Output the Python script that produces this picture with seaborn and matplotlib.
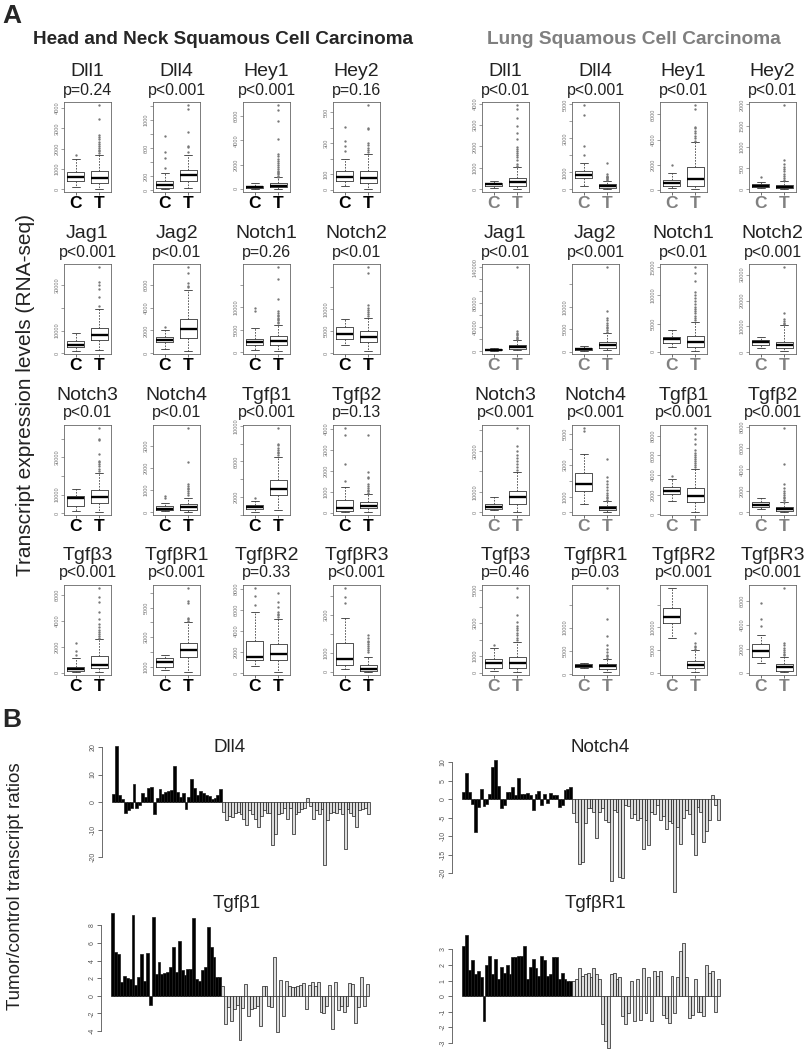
import numpy as np
import pandas as pd
import matplotlib
matplotlib.use("Agg")
import matplotlib.pyplot as plt
import seaborn as sns

sns.set_style("white")
plt.rcParams['font.family'] = ['Liberation Sans', 'DejaVu Sans']

# ---------------- data: panel A (box plots) ----------------
genes = ["Dll1", "Dll4", "Hey1", "Hey2", "Jag1", "Jag2", "Notch1", "Notch2",
         "Notch3", "Notch4", "Tgfβ1", "Tgfβ2", "Tgfβ3", "TgfβR1", "TgfβR2", "TgfβR3"]

hn_pvals = ["p=0.24", "p<0.001", "p<0.001", "p=0.16", "p<0.001", "p<0.01", "p=0.26", "p<0.01",
            "p<0.01", "p<0.01", "p<0.001", "p=0.13", "p<0.001", "p<0.001", "p=0.33", "p<0.001"]
lu_pvals = ["p<0.01", "p<0.001", "p<0.01", "p<0.01", "p<0.01", "p<0.001", "p<0.01", "p<0.001",
            "p<0.001", "p<0.001", "p<0.001", "p<0.001", "p=0.46", "p=0.03", "p<0.001", "p<0.001"]

# box stats: [whisker low, q1, median, q3, whisker high]
hn_ctrl = [[100, 400, 620, 870, 1480], [24, 34, 83, 137, 244], [20, 80, 160, 270, 490],
           [22, 54, 83, 120, 200], [1200, 2600, 3900, 5300, 8800], [360, 950, 1160, 1400, 2000],
           [530, 1670, 2270, 3030, 5450], [1900, 3300, 4460, 5900, 7700], [1270, 4000, 8200, 9100, 13100],
           [46, 92, 170, 277, 430], [330, 588, 900, 1137, 1568], [50, 100, 245, 620, 1230],
           [80, 130, 290, 470, 1130], [770, 1000, 1300, 1580, 1810], [650, 1230, 1550, 3060, 5800],
           [145, 380, 650, 1545, 2840]]
hn_tum = [[30, 330, 540, 880, 1680], [34, 137, 215, 283, 502], [20, 135, 270, 460, 950],
          [7, 43, 76, 120, 232], [1500, 5800, 8000, 11400, 19700], [210, 1310, 2150, 3050, 5580],
          [400, 1670, 2580, 3560, 6200], [600, 2540, 3600, 5000, 8080], [900, 5450, 8700, 12500, 21800],
          [30, 123, 246, 385, 660], [500, 2156, 2940, 3920, 6468], [50, 210, 330, 490, 900],
          [80, 395, 605, 1320, 2630], [650, 1620, 2100, 2570, 3990], [160, 1290, 1870, 2800, 5160],
          [0, 55, 145, 365, 780]]
hn_ctrl_out = [[1700], [317, 463, 537, 766], [], [250, 283, 315, 406], [], [2300], [9240, 9770], [],
               [], [660, 740], [1842], [1520, 2340, 3690, 4030], [1340, 1660, 2320], [],
               [6450, 7320, 8060], [3640, 3960, 4420]]
hn_tum_out = [[1800, 1880, 1950, 2050, 2150, 2250, 2350, 2450, 2550, 2650, 3450, 4130],
              [537, 610, 634, 830, 1146, 1205],
              [1000, 1100, 1200, 1300, 1400, 1500, 1650, 1800, 1950, 2100, 2300, 2500, 2700, 2900,
               4100, 5600, 6500, 6900],
              [240, 255, 270, 285, 300, 390, 396, 543],
              [21000, 24700, 28500, 30000, 31500, 37900],
              [5800, 5970, 6180, 7070, 7580],
              [6500, 6800, 7100, 7400, 7700, 8000, 8400, 8800, 9200, 11900, 16300, 18900],
              [8500, 8900, 9300, 9700, 10200, 10800, 18100, 19400],
              [22700, 24000, 25500, 26500, 27500, 28200, 31800, 39000, 40000, 45500],
              [800, 880, 960, 1040, 1120, 1200, 1280, 2280, 3800],
              [6700, 6900, 7050, 7250, 7500, 7800, 8000, 9720],
              [950, 1020, 1100, 1180, 1260, 1360, 1640, 1720, 1930, 3690],
              [2700, 2850, 3000, 3150, 3300, 3500, 3800, 4160, 4680, 5470, 5870, 6530],
              [4100, 4200, 4300, 5310, 5450, 6300],
              [5320, 5500, 5650, 5800, 6300, 6770, 7580],
              [1050, 1150, 1250, 1350, 1450, 1550, 1650, 1800, 1960]]

lu_ctrl = [[80, 160, 240, 317, 400], [200, 640, 860, 1100, 1560], [140, 330, 545, 760, 1360],
           [24, 56, 80, 120, 176], [560, 1100, 2260, 3400, 5100], [225, 375, 600, 750, 1280],
           [780, 1560, 2280, 2580, 3780], [1560, 2870, 3900, 4800, 5870], [990, 1480, 2800, 4100, 7250],
           [500, 1340, 1770, 2480, 3730], [1360, 2030, 2400, 2810, 3560], [310, 470, 720, 940, 1380],
           [100, 310, 580, 840, 1500], [1230, 1450, 1810, 2170, 2300], [7740, 10900, 12400, 14360, 18650],
           [790, 1350, 1770, 2420, 3180]]
lu_tum = [[30, 160, 320, 510, 1030], [40, 100, 200, 300, 500], [80, 270, 820, 1770, 3810],
          [16, 24, 56, 96, 200], [1700, 3400, 7300, 10200, 18600], [375, 750, 1500, 2250, 4130],
          [180, 780, 1680, 2760, 5280], [650, 1700, 2870, 3900, 10400], [330, 4100, 7250, 10200, 19600],
          [40, 150, 280, 410, 750], [270, 1290, 1900, 2640, 4610], [60, 160, 280, 470, 940],
          [60, 310, 580, 950, 1850], [500, 1090, 1670, 2170, 3260], [225, 1130, 1730, 2630, 5110],
          [85, 170, 450, 700, 1350]]
lu_ctrl_out = [[], [2000, 2560, 4360, 4940], [2000], [280], [], [], [], [], [], [5170, 5340], [3900],
               [], [1650], [], [], [3890, 4510, 5800]]
lu_tum_out = [[1100, 1200, 1350, 1500, 1600, 1700, 1800, 1900, 1980, 2330, 2620, 2940, 3330, 3730, 3920],
              [550, 600, 650, 700, 750, 800, 900, 1540],
              [3900, 4100, 4300, 4500, 4700, 4900, 5040, 6460, 6730],
              [230, 270, 310, 360, 420, 480, 520, 600, 680, 1976],
              [20000, 22000, 24000, 26000, 28500, 30500, 32800, 140000],
              [4400, 4800, 5200, 5600, 6000, 6500, 7000, 7500, 9170, 18800],
              [5600, 6000, 6400, 6800, 7200, 7600, 8000, 8500, 9000, 9500, 10000, 10700, 12500, 14000, 15000],
              [10900, 11500, 12200, 13000, 15000, 32800],
              [20500, 22000, 23500, 25000, 26500, 28000, 30000, 32500, 41000],
              [800, 900, 1000, 1100, 1250, 1400, 1600, 1800, 2000, 2260, 3380],
              [4800, 5000, 5200, 5400, 5600, 5800, 6000, 6200, 6540, 7200, 7700, 8200, 8750],
              [1000, 1150, 1300, 1450, 1600, 1800, 2000, 2300, 2660, 4480, 7840],
              [1950, 2100, 2250, 2400, 2550, 2700, 2850, 3050, 3500, 4590, 5100],
              [3500, 3800, 4200, 4700, 5300, 6160, 8190, 11800, 18500],
              [5300, 5600, 6000, 6600, 8870],
              [1450, 1600, 1750, 1900, 2100, 2300, 2480, 7040]]

# y ticks (start, stop, step) and which tick labels R kept
hn_ticks = [(0, 4000, 1000), (0, 1200, 200), (0, 6000, 2000), (0, 500, 100),
            (0, 30000, 10000), (0, 6000, 2000), (0, 15000, 5000), (0, 15000, 5000),
            (0, 40000, 10000), (0, 3000, 1000), (0, 10000, 2000), (0, 4000, 1000),
            (0, 6000, 2000), (1000, 6000, 1000), (0, 8000, 2000), (0, 4000, 1000)]
hn_shown = [[0, 1000, 2000, 3000, 4000], [0, 200, 600, 1000], [0, 2000, 4000, 6000], [0, 100, 300, 500],
            [0, 10000, 30000], [0, 2000, 4000, 6000], [0, 5000, 10000], [0, 5000, 10000],
            [0, 10000, 30000], [0, 1000, 2000, 3000], [2000, 6000, 10000], [0, 1000, 2000, 3000, 4000],
            [0, 2000, 4000, 6000], [1000, 3000, 5000], [0, 2000, 4000, 6000, 8000], [0, 1000, 3000]]
lu_ticks = [(0, 4000, 1000), (0, 5000, 1000), (0, 6000, 2000), (0, 2000, 500),
            (0, 140000, 20000), (0, 15000, 5000), (0, 15000, 5000), (0, 30000, 10000),
            (0, 40000, 10000), (0, 5000, 1000), (0, 8000, 2000), (0, 8000, 2000),
            (0, 5000, 1000), (0, 15000, 5000), (0, 15000, 5000), (0, 6000, 2000)]
lu_shown = [[0, 1000, 2000, 3000, 4000], [0, 1000, 3000, 5000], [0, 2000, 4000, 6000],
            [0, 500, 1000, 1500, 2000], [0, 40000, 80000, 140000], [0, 5000, 10000],
            [0, 5000, 10000, 15000], [0, 10000, 20000, 30000], [0, 10000, 30000], [0, 1000, 3000, 5000],
            [0, 2000, 4000, 6000, 8000], [0, 2000, 4000, 6000, 8000], [0, 1000, 3000, 5000],
            [0, 5000, 10000], [0, 5000, 10000], [0, 2000, 4000, 6000]]

# ---------------- data: panel B (tumor/control ratios) ----------------
dll4_hn = [3, 20.5, 2.5, 1, -4, -3, -2, 6.5, -2, -1, 3.2, 2, 5.2, 5.5, -4.5, 1.5, 4.8, 3, 3.8,
           4.2, 4.5, 13, 3.5, 2, 3.3, -2.5, 2, 8.5, 5, 2.5, 4, 3.2, 2.5, 2.2, 1, 1.5, 2.5, 4.7]
dll4_lu = [-3.5, -6.5, -5, -5.5, -4, -3.5, -4.5, -6, -8.5, -3, -4.5, -6, -9, -5, -3, -4, -4,
           -15.5, -11.5, -4.5, -4, -2, -6, -2, -11.5, -4.5, -3.5, -2.5, -2, 1.5, -1.5, -6, -3,
           -4.5, -2.5, -23, -6.5, -4, -3.5, -4, -2.5, -4.5, -17, -2.5, -4, -5, -9, -3, -2.5, -2, -4.5]
notch4_hn = [1.8, 7, 1.8, -1.3, -9, -2, 2.8, -1.8, -1.3, 1.3, 8.7, 10.5, 3.5, -2.3, -1.5, 1.8,
             1.8, 3.2, 1, 5.8, 1.5, 1.5, 1.7, 1.2, -2.8, 1.5, 2.2, -1.7, 1.5, -1, 1.6, 1.2, 1,
             -2.2, -1.5, 2.5, 2.8, 3.2]
notch4_lu = [-3.8, -6.2, -17.5, -17, -6.5, -2.5, -2.5, -3.5, -10.5, -3.5, -2.5, -5.5, -6.2, -22,
             -3, -3.5, -21, -21.3, -1.5, -1.8, -5, -4, -5.5, -5, -13.5, -5.5, -12.5, -3.5, -4, -1.5,
             -5.5, -4.5, -8, -6, -6.5, -25, -7.5, -12, -5, -3, -4, -9.5, -15.2, -2, -3.5, -11.5,
             -8.5, -5.5, 1, -1.5, -5.5]
tgfb1_hn = [9.4, 5.0, 4.7, 1.6, 2.3, 2.0, 1.9, 9.2, 1.2, 2.1, 4.8, 1.7, 4.9, -1.0, 9.0, 2.5, 3.8,
            2.5, 2.6, 2.7, 3.3, 5.5, 2.7, 6.2, 2.9, 2.4, 3.0, 3.0, 8.8, 1.9, 1.7, 2.9, 3.3, 7.8,
            5.6, 4.4, 2.1, 2.1]
tgfb1_lu = [1.1, -3.2, -1.3, -2.8, -1.5, -1.0, -5.0, -1.4, 1.3, -2.3, -1.5, -1.4, -1.1, -3.4, 1.1,
            1.1, -1.2, -1.3, 4.4, -4.1, 1.8, -2.3, 1.7, 1.1, 1.0, 1.0, 1.1, 1.2, 1.5, -1.5, 1.2,
            1.6, 1.1, 1.6, -1.8, -1.9, -1.2, 1.2, -3.8, 1.6, -1.6, -1.2, -1.8, -1.1, 1.5, 1.3,
            -3.1, -1.3, 2.1, -1.2, 1.4]
tgfbr1_hn = [3.2, 3.9, 1.7, 2.3, 1.4, 1.6, 1.2, -1.6, 2.0, 2.6, 1.4, 2.4, 1.1, 1.9, 1.5, 2.0, 1.4,
             2.5, 2.5, 2.6, 2.6, 3.2, 1.1, 1.9, 2.4, 1.8, 1.3, 2.6, 2.3, 1.3, 1.4, 2.5, 2.5, 1.1,
             1.5, 1.1, 1.0, 1.0]
tgfbr1_lu = [1.0, 1.1, 1.8, 1.3, 1.4, 1.5, 1.2, 1.8, 1.4, 1.1, -1.8, -2.9, -3.3, 1.4, 1.5, 1.1,
             1.2, -1.3, -1.8, -1.1, 1.0, -1.6, 1.1, -1.5, 1.8, -1.1, 1.2, -1.6, 1.6, 1.3, 1.6,
             -1.2, -1.4, -1.7, 1.3, -1.1, 1.2, 2.9, 3.4, 1.2, -1.4, -1.2, 1.1, -1.0, -1.0, -1.3,
             2.0, 1.5, 1.6, -1.0, 1.1]
bar_titles = ["Dll4", "Notch4", "Tgfβ1", "TgfβR1"]
bar_ticks = [[-20, -10, 0, 10, 20], [-20, -15, -10, -5, 0, 5, 10], [-4, -2, 0, 2, 4, 6, 8],
             [-3, -2, -1, 0, 1, 2, 3]]

W, H = 809, 1050
fig = plt.figure(figsize=(W / 100, H / 100), dpi=100)


def px_axes(x0, y0, x1, y1):
    return fig.add_axes([x0 / W, 1 - y1 / H, (x1 - x0) / W, (y1 - y0) / H])


def draw_box(ax, cs, ts, co, to, tk, shown, ct_color):
    stats = [dict(whislo=s[0], q1=s[1], med=s[2], q3=s[3], whishi=s[4], fliers=o)
             for s, o in ((cs, co), (ts, to))]
    ax.bxp(stats, positions=[1, 2], widths=0.72, showfliers=True,
           boxprops=dict(color='#333333', lw=0.6),
           medianprops=dict(color='black', lw=1.7),
           whiskerprops=dict(color='#444444', lw=0.6, ls=(0, (2, 1.5))),
           capprops=dict(color='#333333', lw=0.6),
           flierprops=dict(marker='o', ms=1.7, mfc='#777777', mec='#777777', mew=0))
    vals = [cs[0], ts[0], cs[4], ts[4]] + co + to
    lo, hi = min(vals), max(vals)
    pad = 0.04 * (hi - lo)
    ax.set_ylim(lo - pad, hi + pad)
    ax.set_xlim(0.5, 2.5)
    ticks = np.arange(tk[0], tk[1] + 1, tk[2])
    ax.set_yticks(ticks)
    ax.set_yticklabels([str(t) if t in shown else '' for t in ticks], rotation=90, va='center')
    ax.tick_params(axis='y', length=2, width=0.5, labelsize=4, colors='#777777', pad=1, left=True)
    ax.set_xticks([1, 2])
    ax.set_xticklabels(['C', 'T'], fontsize=12.5, fontweight='bold', color=ct_color)
    ax.tick_params(axis='x', length=2.5, width=0.6, color='#555555', pad=0.5, bottom=True)
    for sp in ax.spines.values():
        sp.set_color('#666666')
        sp.set_linewidth(0.6)


hn_left = [64, 153, 243, 333]
lu_left = [482, 572, 660, 749]
row_top = [102, 264, 425, 585]
bw, bh = 47, 90

for i, g in enumerate(genes):
    r, c = divmod(i, 4)
    for lefts, ctrl, tum, co, to, tks, shw, pv, col in (
            (hn_left, hn_ctrl, hn_tum, hn_ctrl_out, hn_tum_out, hn_ticks, hn_shown, hn_pvals, 'black'),
            (lu_left, lu_ctrl, lu_tum, lu_ctrl_out, lu_tum_out, lu_ticks, lu_shown, lu_pvals, '#808080')):
        x0 = lefts[c]
        y0 = row_top[r]
        ax = px_axes(x0, y0, x0 + bw, y0 + bh)
        draw_box(ax, ctrl[i], tum[i], co[i], to[i], tks[i], shw[i], col)
        xc = (x0 + bw / 2) / W
        fig.text(xc, 1 - (y0 - 30) / H, g, ha='center', va='center', fontsize=14, color='#222222')
        fig.text(xc, 1 - (y0 - 12) / H, pv[i], ha='center', va='center', fontsize=11.5, color='#222222')

fig.text(12 / W, 1 - 16 / H, "A", fontsize=19, fontweight='bold', ha='center', va='center')
fig.text(223 / W, 1 - 40 / H, "Head and Neck Squamous Cell Carcinoma", fontsize=13.6,
         fontweight='bold', ha='center', va='center')
fig.text(634 / W, 1 - 40 / H, "Lung Squamous Cell Carcinoma", fontsize=13.8,
         fontweight='bold', ha='center', va='center', color='#7f7f7f')
fig.text(26 / W, 1 - 395 / H, "Transcript expression levels (RNA-seq)", fontsize=15,
         rotation=90, ha='center', va='center', color='#222222')

# ---------------- panel B ----------------
fig.text(12 / W, 1 - 720 / H, "B", fontsize=19, fontweight='bold', ha='center', va='center')
fig.text(16 / W, 1 - 886 / H, "Tumor/control transcript ratios", fontsize=13.5,
         rotation=90, ha='center', va='center', color='#222222')

bar_sets = [(dll4_hn, dll4_lu), (notch4_hn, notch4_lu), (tgfb1_hn, tgfb1_lu), (tgfbr1_hn, tgfbr1_lu)]
bar_rects = [(102, 741, 380, 870), (452, 755, 730, 897), (101, 908, 379, 1045), (452, 931, 730, 1052)]
bar_title_pos = [(230, 748), (600, 748), (237, 903), (595, 903)]

for (hn_v, lu_v), rect, title, tks, tp in zip(bar_sets, bar_rects, bar_titles, bar_ticks, bar_title_pos):
    ax = px_axes(*rect)
    vals = list(hn_v) + list(lu_v)
    n = len(vals)
    df = pd.DataFrame({"sample": np.arange(n), "ratio": vals,
                       "cohort": ["HNSCC"] * len(hn_v) + ["LUSC"] * len(lu_v)})
    sns.barplot(data=df, x="sample", y="ratio", hue="cohort",
                palette={"HNSCC": "black", "LUSC": "#dcdcdc"}, dodge=False, width=1.0,
                errorbar=None, legend=False, edgecolor="#1a1a1a", linewidth=0.5, ax=ax)
    lo, hi = min(vals), max(vals)
    pad = 0.04 * (hi - lo)
    ax.set_ylim(lo - pad, hi + pad)
    ax.set_xlim(-0.5 - 0.04 * n, n - 0.5 + 0.04 * n)
    ax.set_xticks([])
    ax.set_xlabel('')
    ax.set_ylabel('')
    ax.set_yticks(tks)
    ax.set_yticklabels([str(t) for t in tks], rotation=90, va='center')
    ax.tick_params(axis='y', length=3, width=0.6, labelsize=5, colors='#555555', pad=1, left=True)
    for s in ['top', 'right', 'bottom']:
        ax.spines[s].set_visible(False)
    ax.spines['left'].set_bounds(tks[0], tks[-1])
    ax.spines['left'].set_color('#555555')
    ax.spines['left'].set_linewidth(0.6)
    ax.patch.set_alpha(0)
    fig.text(tp[0] / W, 1 - tp[1] / H, title, ha='center', va='center', fontsize=13.5, color='#222222')

fig.savefig("out.png", dpi=100)
